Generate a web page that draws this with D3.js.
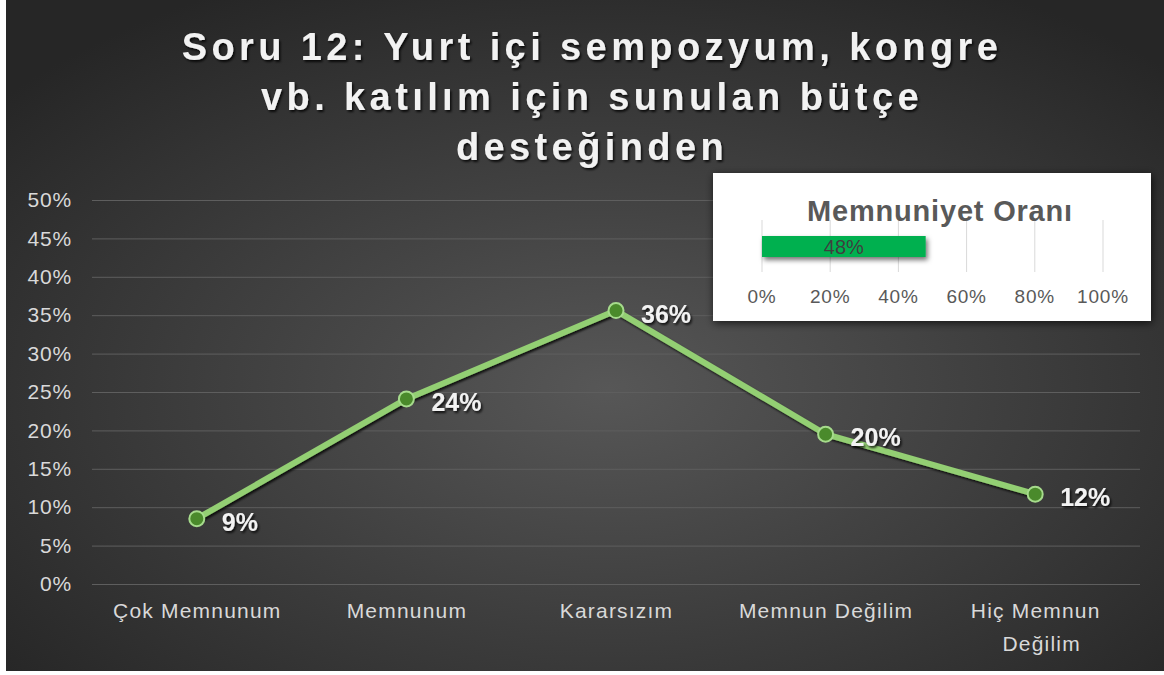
<!DOCTYPE html>
<html>
  <head>
    <meta charset="utf-8">
    <script src="https://d3js.org/d3.v7.min.js"></script>
    <title>Soru 12</title>
    <style>
      body { margin: 0; background: #ffffff; }
      svg { display: block; font-family: "Liberation Sans", Arial, sans-serif; }
    </style>
  </head>
  <body>
    <div id="plot"></div>
    <script>

    // data
    const categories = ["Çok Memnunum", "Memnunum", "Kararsızım", "Memnun Değilim", "Hiç Memnun Değilim"];
    const values = [0.085, 0.241, 0.356, 0.195, 0.117];
    const valueLabels = ["9%", "24%", "36%", "20%", "12%"];
    const yTicks = [0, 0.05, 0.10, 0.15, 0.20, 0.25, 0.30, 0.35, 0.40, 0.45, 0.50];
    const titleLines = ["Soru 12: Yurt içi sempozyum, kongre", "vb. katılım için sunulan bütçe", "desteğinden"];

    // inset bar
    const insetTitle = "Memnuniyet Oranı";
    const insetValue = 0.48;
    const insetLabel = "48%";
    const insetTicks = [0, 0.2, 0.4, 0.6, 0.8, 1.0];

    const W = 1164, H = 675;

    let svg = d3.select("#plot")
      .append("svg")
        .attr("width", W)
        .attr("height", H);

    const defs = svg.append("defs");

    const grad = defs.append("radialGradient")
      .attr("id", "bg")
      .attr("cx", "52%").attr("cy", "58%").attr("r", "68%");
    grad.append("stop").attr("offset", "0%").attr("stop-color", "#575757");
    grad.append("stop").attr("offset", "100%").attr("stop-color", "#262626");

    // shadows
    const sh = defs.append("filter").attr("id", "shadow")
      .attr("x", "-10%").attr("y", "-15%").attr("width", "120%").attr("height", "135%");
    sh.append("feDropShadow").attr("dx", 1).attr("dy", 2).attr("stdDeviation", 4)
      .attr("flood-color", "#000").attr("flood-opacity", 0.7);

    const tsh = defs.append("filter").attr("id", "tshadow");
    tsh.append("feDropShadow").attr("dx", 1.5).attr("dy", 2).attr("stdDeviation", 1.2)
      .attr("flood-color", "#000").attr("flood-opacity", 0.8);

    const bsh = defs.append("filter").attr("id", "bshadow")
      .attr("x", "-10%").attr("y", "-30%").attr("width", "130%").attr("height", "200%");
    bsh.append("feDropShadow").attr("dx", 2).attr("dy", 3).attr("stdDeviation", 2.5)
      .attr("flood-color", "#000").attr("flood-opacity", 0.55);

    // background
    svg.append("rect")
      .attr("x", 6).attr("y", 0)
      .attr("width", W - 6).attr("height", 671)
      .attr("fill", "url(#bg)");

    // title
    svg.append("text")
      .attr("text-anchor", "middle")
      .attr("fill", "#f2f2f2")
      .style("font-size", "38px")
      .style("font-weight", "bold")
      .style("letter-spacing", "4.4px")
      .attr("filter", "url(#tshadow)")
      .selectAll("tspan")
      .data(titleLines)
      .join("tspan")
        .attr("x", 592)
        .attr("y", (d, i) => 60 + i * 50)
        .text(d => d);

    // scales
    const plotLeft = 92, plotRight = 1140, plotTop = 200, plotBottom = 584;
    const x = d3.scalePoint()
      .domain(categories)
      .range([plotLeft, plotRight])
      .padding(0.5);
    const y = d3.scaleLinear()
      .domain([0, 0.5])
      .range([plotBottom, plotTop]);

    // grid
    svg.append("g")
      .attr("transform", "translate(" + plotLeft + ",0)")
      .call(d3.axisLeft(y)
        .tickValues(yTicks)
        .tickSize(-(plotRight - plotLeft))
        .tickFormat(""))
      .call(g => g.select(".domain").remove())
      .selectAll("line")
        .attr("stroke", "#5e5e5e")
        .attr("stroke-width", 1);

    // y axis labels
    const yAxis = svg.append("g")
      .attr("transform", "translate(" + plotLeft + ",0)")
      .call(d3.axisLeft(y)
        .tickValues(yTicks)
        .tickSize(0)
        .tickPadding(20)
        .tickFormat(d3.format(".0%")));
    yAxis.select(".domain").remove();
    yAxis.selectAll("text")
      .attr("fill", "#d9d9d9")
      .style("font-size", "21px")
      .style("letter-spacing", "0.8px")
      .style("font-family", "'Liberation Sans', Arial, sans-serif");

    // x axis labels
    const xAxis = svg.append("g")
      .attr("transform", "translate(0," + plotBottom + ")")
      .call(d3.axisBottom(x).tickSize(0).tickPadding(0).tickFormat(""));
    xAxis.select(".domain").remove();
    xAxis.selectAll(".tick").each(function(d) {
      const lines = d === "Hiç Memnun Değilim" ? ["Hiç Memnun", "Değilim"] : [d];
      const t = d3.select(this).append("text")
        .attr("text-anchor", "middle")
        .attr("fill", "#d9d9d9")
        .style("font-size", "21px")
        .style("letter-spacing", "1.2px")
        .style("font-family", "'Liberation Sans', Arial, sans-serif");
      t.selectAll("tspan")
        .data(lines)
        .join("tspan")
          .attr("x", (l, i) => i === 1 ? 6 : 0)
          .attr("y", (l, i) => 34 + i * 33)
          .text(l => l);
    });

    // line
    const line = d3.line()
      .x((d, i) => x(categories[i]))
      .y(d => y(d));

    svg.append("path")
      .datum(values)
      .attr("d", line)
      .attr("fill", "none")
      .attr("stroke", "#93cf73")
      .attr("stroke-width", 6)
      .attr("stroke-linejoin", "round")
      .attr("filter", "url(#tshadow)");

    svg.selectAll("circle.pt")
      .data(values)
      .join("circle")
        .attr("class", "pt")
        .attr("cx", (d, i) => x(categories[i]))
        .attr("cy", d => y(d))
        .attr("r", 7.5)
        .attr("fill", "#4a8a2b")
        .attr("stroke", "#a6db8c")
        .attr("stroke-width", 2);

    // data labels
    svg.selectAll("text.val")
      .data(values)
      .join("text")
        .attr("class", "val")
        .attr("x", (d, i) => x(categories[i]) + 25)
        .attr("y", d => y(d) + 12)
        .attr("fill", "#f2f2f2")
        .style("font-size", "25px")
        .style("font-weight", "bold")
        .attr("filter", "url(#tshadow)")
        .text((d, i) => valueLabels[i]);

    // inset chart
    const inset = svg.append("g");
    inset.append("rect")
      .attr("x", 713).attr("y", 173)
      .attr("width", 438).attr("height", 148)
      .attr("fill", "#ffffff")
      .attr("filter", "url(#shadow)");

    const ix = d3.scaleLinear()
      .domain([0, 1])
      .range([762, 1103]);

    inset.selectAll("line.ig")
      .data(insetTicks)
      .join("line")
        .attr("class", "ig")
        .attr("x1", d => ix(d)).attr("x2", d => ix(d))
        .attr("y1", 220).attr("y2", 272)
        .attr("stroke", "#d9d9d9")
        .attr("stroke-width", 1);

    inset.append("text")
      .attr("x", 940).attr("y", 221)
      .attr("text-anchor", "middle")
      .attr("fill", "#595959")
      .style("font-size", "29px")
      .style("font-weight", "bold")
      .style("letter-spacing", "0.8px")
      .text(insetTitle);

    inset.append("rect")
      .attr("x", ix(0)).attr("y", 236)
      .attr("width", ix(insetValue) - ix(0)).attr("height", 21)
      .attr("fill", "#00b050")
      .attr("filter", "url(#bshadow)");

    inset.append("text")
      .attr("x", (ix(0) + ix(insetValue)) / 2).attr("y", 254)
      .attr("text-anchor", "middle")
      .attr("fill", "#3f3f3f")
      .style("font-size", "20px")
      .text(insetLabel);

    inset.selectAll("text.it")
      .data(insetTicks)
      .join("text")
        .attr("class", "it")
        .attr("x", d => ix(d)).attr("y", 303)
        .attr("text-anchor", "middle")
        .attr("fill", "#595959")
        .style("font-size", "19px")
        .style("letter-spacing", "0.8px")
        .text(d => d3.format(".0%")(d));

    </script>
  </body>
</html>
